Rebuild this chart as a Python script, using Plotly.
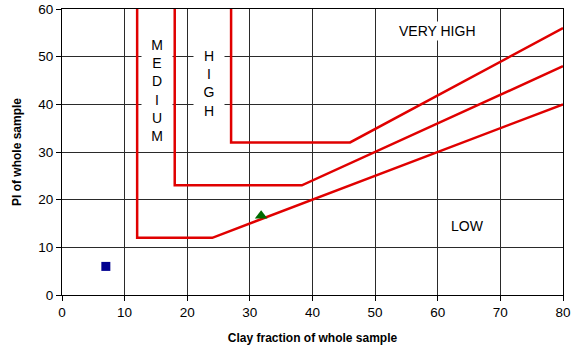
import plotly.graph_objects as go

# Boundary lines (clay fraction, PI)
low_med_x = [12, 12, 24, 80]
low_med_y = [60, 12, 12, 40]
med_high_x = [18, 18, 38.3, 80]
med_high_y = [60, 23, 23, 48]
high_vhigh_x = [27, 27, 46, 80]
high_vhigh_y = [60, 32, 32, 56]

# Samples
sample1_x = [7]
sample1_y = [6]
sample2_x = [31.8]
sample2_y = [16.6]

# Zone labels
zone_labels = ["M<br>E<br>D<br>I<br>U<br>M", "H<br>I<br>G<br>H", "VERY HIGH", "LOW"]
zone_x = [15.2, 23.5, 60, 64.8]
zone_y = [42.9, 44.4, 55.3, 14.5]
zone_w = [28, 28, None, None]

x_ticks = [0, 10, 20, 30, 40, 50, 60, 70, 80]
y_ticks = [0, 10, 20, 30, 40, 50, 60]

FONT = "Arial, Liberation Sans, sans-serif"
RED = "#e00000"

fig = go.Figure()
for xs, ys in [(low_med_x, low_med_y), (med_high_x, med_high_y), (high_vhigh_x, high_vhigh_y)]:
    fig.add_trace(go.Scatter(x=xs, y=ys, mode="lines",
                             line=dict(color=RED, width=2.5), hoverinfo="skip"))

fig.add_trace(go.Scatter(x=sample1_x, y=sample1_y, mode="markers",
                         marker=dict(symbol="square", size=9, color="#000090")))
fig.add_trace(go.Scatter(x=sample2_x, y=sample2_y, mode="markers",
                         marker=dict(symbol="triangle-up", size=11, color="#006a00")))

for t, x, y, w in zip(zone_labels, zone_x, zone_y, zone_w):
    fig.add_annotation(x=x, y=y, text=t, showarrow=False, xref="x", yref="y",
                       font=dict(family=FONT, size=14, color="black"),
                       bgcolor="white", borderpad=1, width=w)

axis_common = dict(showline=True, mirror=True, linecolor="black", linewidth=1,
                   showgrid=True, gridcolor="#2a2a2a", gridwidth=1, zeroline=False,
                   ticks="outside", ticklen=5, tickcolor="black", automargin=False,
                   tickfont=dict(family=FONT, size=13.5, color="black"))

fig.update_xaxes(range=[0, 80], tickvals=x_ticks,
                 title=dict(text="<b>Clay fraction of whole sample</b>",
                            font=dict(family=FONT, size=12, color="black"), standoff=14),
                 **axis_common)
fig.update_yaxes(range=[0, 60], tickvals=y_ticks,
                 title=dict(text="<b>PI of whole sample</b>",
                            font=dict(family=FONT, size=12, color="black"), standoff=14),
                 **axis_common)

fig.update_layout(width=574, height=347, showlegend=False,
                  margin=dict(l=62, r=11, t=9, b=52),
                  plot_bgcolor="white", paper_bgcolor="white",
                  font=dict(family=FONT))

fig.write_html("out.html")
